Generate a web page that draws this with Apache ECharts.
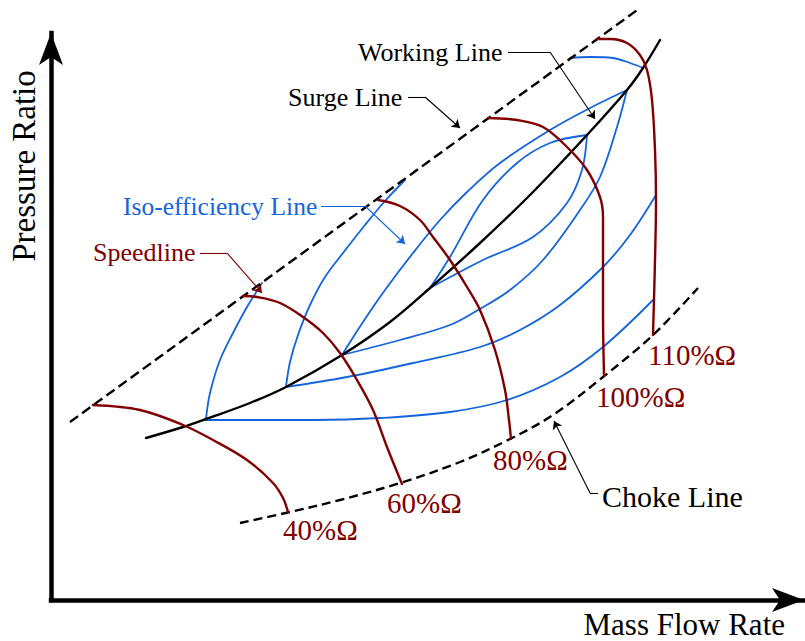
<!DOCTYPE html>
<html>
<head>
<meta charset="utf-8">
<script src="https://cdn.jsdelivr.net/npm/echarts@6/dist/echarts.min.js"></script>
<style>
  html, body { margin: 0; padding: 0; background: #ffffff; }
  #chart { width: 805px; height: 641px; }
</style>
</head>
<body>
<div id="chart"></div>
<script>
// Compressor map: mass flow rate (x) vs pressure ratio (y), arbitrary units.

// Stability limits and operating line
const surgeLine   = [[19, 178], [589, 592]];
const workingLine = [[95, 162], [132, 173], [155, 181], [199, 197], [235, 213], [291, 245], [339, 278],
                     [379, 312], [429, 357], [479, 405], [536, 465], [576, 510], [592, 532], [609, 560]];
const chokeLine   = [[189, 77], [239, 88], [289, 100], [349, 117], [409, 138], [459, 161], [502, 185],
                     [552, 223], [602, 265], [647, 312]];

// Constant corrected-speed lines
const speedLabels = ['40%Ω', '60%Ω', '80%Ω', '100%Ω', '110%Ω'];
const speed40  = [[42, 195], [89, 190], [132, 175], [162, 160], [196, 140], [222, 117], [232, 102], [237, 88]];
const speed60  = [[192, 304], [206, 303], [229, 297], [252, 283], [272, 267], [289, 247], [306, 220],
                  [322, 190], [336, 153], [351, 116]];
const speed80  = [[327, 400], [349, 394], [369, 380], [382, 363], [399, 340], [416, 313], [429, 290],
                  [444, 250], [454, 210], [458, 180], [460, 161]];
const speed100 = [[437, 482], [466, 480], [492, 473], [516, 453], [536, 430], [549, 403], [552, 383],
                  [552, 340], [552, 290], [553, 224]];
const speed110 = [[546, 561], [559, 561], [576, 557], [589, 545], [596, 530], [601, 500], [604, 450],
                  [605, 400], [604, 340], [602, 265]];

// Iso-efficiency contours (upper and lower branches meet on the working line)
const iso1Upper = [[155, 181], [159, 207], [169, 240], [182, 267], [196, 293], [211, 317]];
const iso1Lower = [[155, 180], [262, 180], [329, 182], [399, 188], [456, 200], [509, 223], [552, 253], [602, 300]];
const iso2Upper = [[235, 213], [239, 238], [247, 265], [259, 295], [274, 323], [292, 347], [314, 375],
                   [334, 399], [354, 420]];
const iso2Lower = [[235, 213], [296, 223], [362, 237], [429, 253], [469, 270], [509, 295], [552, 333],
                   [579, 365], [605, 405]];
const iso3Upper = [[291, 245], [312, 278], [334, 310], [362, 347], [389, 380], [416, 408], [449, 437],
                   [499, 470], [539, 492], [576, 510]];
const iso3Lower = [[291, 245], [349, 260], [399, 275], [427, 290], [459, 310], [492, 340], [529, 390],
                   [549, 423], [566, 473], [576, 510]];
const iso4Upper = [[379, 312], [399, 343], [432, 400], [466, 437], [499, 457], [536, 465]];
const iso4Lower = [[379, 312], [432, 340], [482, 363], [516, 397], [531, 430], [536, 465]];
const iso5Arc   = [[519, 542], [539, 543], [562, 542], [579, 537], [592, 532]];

// Callout leaders: text anchor -> elbow -> arrow tip
const workingLeader = [[457, 548], [499, 548], [544, 481]];
const surgeLeader   = [[357, 503], [374, 503], [409, 472]];
const isoLeader     = [[270, 394], [314, 394], [354, 356]];
const speedLeader   = [[149, 347], [176, 347], [211, 307]];
const chokeLeader   = [[547, 107], [539, 107], [503, 179]];

const RED = '#800000';
const BLUE = '#1464dc';
const BLACK = '#000000';
const SERIF = '"Liberation Serif", "Times New Roman", serif';

const chart = echarts.init(document.getElementById('chart'), null, { renderer: 'svg' });

function curve(name, data, color, width, extra) {
  return Object.assign({
    name: name,
    type: 'line',
    data: data,
    smooth: 0.35,
    showSymbol: false,
    clip: false,
    silent: true,
    lineStyle: { color: color, width: width, cap: 'round', join: 'round' },
    z: 3
  }, extra || {});
}

// Each leader: a plain elbow segment plus an arrowed segment to the target
function leaderSeries(list, arrow) {
  return {
    type: 'lines',
    coordinateSystem: 'cartesian2d',
    clip: false,
    silent: true,
    symbol: arrow ? ['none', 'arrow'] : ['none', 'none'],
    symbolSize: 8,
    data: list.map(l => ({
      coords: arrow ? [l.pts[1], l.pts[2]] : [l.pts[0], l.pts[1]],
      lineStyle: { color: l.color, width: 1.1, opacity: 1 }
    })),
    z: 5
  };
}

const leaders = [
  { pts: workingLeader, color: BLACK },
  { pts: surgeLeader, color: BLACK },
  { pts: isoLeader, color: BLUE },
  { pts: speedLeader, color: RED },
  { pts: chokeLeader, color: BLACK }
];

const isoSets = [iso1Upper, iso1Lower, iso2Upper, iso2Lower, iso3Upper, iso3Lower, iso4Upper, iso4Lower, iso5Arc];
const speedSets = [speed40, speed60, speed80, speed100, speed110];

const series = [];
isoSets.forEach((d, i) => series.push(curve('iso' + i, d, BLUE, 1.8, { z: 2 })));
series.push(curve('Surge Line', surgeLine, BLACK, 2.4, { smooth: false, lineStyle: { color: BLACK, width: 2.4, type: [10, 5] } }));
series.push(curve('Choke Line', chokeLine, BLACK, 2.4, { lineStyle: { color: BLACK, width: 2.4, type: [9, 5] } }));
series.push(curve('Working Line', workingLine, BLACK, 2.4));
speedSets.forEach((d, i) => series.push(curve(speedLabels[i], d, RED, 2.4, { z: 4 })));
series.push(leaderSeries(leaders, false));
series.push(leaderSeries(leaders, true));

function txt(text, x, y, size, color, align, extra) {
  return Object.assign({
    type: 'text',
    x: x, y: y,
    silent: true,
    style: {
      text: text, x: 0, y: 0,
      fill: color,
      font: size + 'px ' + SERIF,
      align: align || 'left',
      verticalAlign: 'middle'
    },
    z: 10
  }, extra || {});
}

const texts = [
  txt('Working Line', 358, 52, 26, BLACK),
  txt('Surge Line', 288, 97, 26, BLACK),
  txt('Iso-efficiency Line', 123, 206, 25.5, BLUE),
  txt('Speedline', 93, 252, 26, RED),
  txt('Choke Line', 602, 496, 30, BLACK),
  txt(speedLabels[0], 283, 530, 29, RED),
  txt(speedLabels[1], 387, 503, 29, RED),
  txt(speedLabels[2], 493, 460, 29, RED),
  txt(speedLabels[3], 596, 397, 29, RED),
  txt(speedLabels[4], 648, 355, 29, RED),
  txt('Mass Flow Rate', 785, 624, 31, BLACK, 'right'),
  txt('Pressure Ratio', 24, 166, 33, BLACK, 'center', { rotation: Math.PI / 2 })
];

const axisLine = {
  show: true,
  symbol: ['none', 'arrow'],
  symbolSize: [18, 32],
  lineStyle: { color: BLACK, width: 4.5, cap: 'square' }
};

chart.setOption({
  animation: false,
  backgroundColor: '#ffffff',
  grid: { left: 51, right: 1, top: 33, bottom: 41, containLabel: false },
  xAxis: {
    type: 'value', min: 0, max: 753,
    axisLine: axisLine,
    axisTick: { show: false }, axisLabel: { show: false }, splitLine: { show: false }
  },
  yAxis: {
    type: 'value', min: 0, max: 567,
    axisLine: axisLine,
    axisTick: { show: false }, axisLabel: { show: false }, splitLine: { show: false }
  },
  series: series,
  graphic: texts
});
</script>
</body>
</html>
